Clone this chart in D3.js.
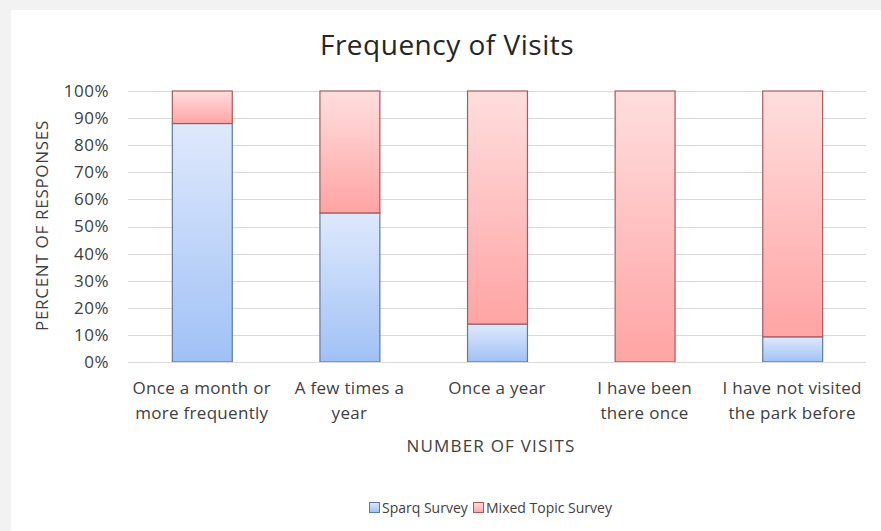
<!DOCTYPE html>
<html>
<head>
<meta charset="utf-8">
<script src="https://cdn.jsdelivr.net/npm/d3@7"></script>
<style>
  body { margin: 0; background: #f2f2f2; }
  svg { display: block; font-family: "Open Sans", sans-serif; }
</style>
</head>
<body>
<div id="chart"></div>
<script>
var width = 881;
var height = 531;
var margin = {top: 91, right: 15, bottom: 169, left: 128};

var categories = [
  ["Once a month or", "more frequently"],
  ["A few times a", "year"],
  ["Once a year"],
  ["I have been", "there once"],
  ["I have not visited", "the park before"]
];
var sparq = [88, 55, 14, 0, 9.3];
var mixed = [12, 45, 86, 100, 90.7];
var yTicks = [0, 10, 20, 30, 40, 50, 60, 70, 80, 90, 100];
var seriesNames = ["Sparq Survey", "Mixed Topic Survey"];

var svg = d3.select("#chart").append("svg")
  .attr("width", width)
  .attr("height", height);

// white chart area on grey page
svg.append("rect")
  .attr("x", 11).attr("y", 10)
  .attr("width", width - 11).attr("height", height - 10)
  .style("fill", "#fff");

var defs = svg.append("defs");
function grad(id, top, bottom) {
  var g = defs.append("linearGradient").attr("id", id)
    .attr("x1", 0).attr("y1", 0).attr("x2", 0).attr("y2", 1);
  g.append("stop").attr("offset", "0%").attr("stop-color", top);
  g.append("stop").attr("offset", "100%").attr("stop-color", bottom);
}
grad("gBlue", "#dfe9fc", "#a0c1f6");
grad("gRed", "#ffdede", "#ffa4a4");

var x = d3.scaleBand()
  .domain(d3.range(categories.length))
  .range([margin.left, width - margin.right])
  .paddingInner(0.594)
  .paddingOuter(0.297);

var y = d3.scaleLinear()
  .domain([0, 100])
  .range([height - margin.bottom, margin.top]);

// gridlines
svg.append("g").selectAll("line")
  .data(yTicks)
  .enter().append("line")
  .attr("x1", margin.left)
  .attr("x2", width - margin.right)
  .attr("y1", function(d) { return Math.round(y(d)) + 0.5; })
  .attr("y2", function(d) { return Math.round(y(d)) + 0.5; })
  .style("stroke", "#d9d9d9")
  .style("stroke-width", 1);

// y axis labels
var yAxis = d3.axisLeft(y)
  .tickValues(yTicks)
  .tickFormat(function(d) { return d + "%"; })
  .tickSize(0)
  .tickPadding(19);
var ya = svg.append("g")
  .attr("transform", "translate(" + margin.left + ",0)")
  .call(yAxis);
ya.select(".domain").remove();
ya.selectAll("text")
  .style("font-family", "Open Sans, sans-serif")
  .style("font-size", "17px")
  .style("letter-spacing", "0.5px")
  .style("fill", "#404040");

// bars: sparq segment then mixed segment stacked on top
var bars = svg.append("g").selectAll("g")
  .data(d3.range(categories.length))
  .enter().append("g");

bars.filter(function(i) { return sparq[i] > 0; })
  .append("rect")
  .attr("x", function(i) { return x(i) + 0.5; })
  .attr("width", x.bandwidth())
  .attr("y", function(i) { return y(sparq[i]); })
  .attr("height", function(i) { return y(0) - y(sparq[i]); })
  .style("fill", "url(#gBlue)")
  .style("stroke", "#5b7aa6")
  .style("stroke-width", 1.2);

bars.append("rect")
  .attr("x", function(i) { return x(i) + 0.5; })
  .attr("width", x.bandwidth())
  .attr("y", function(i) { return y(sparq[i] + mixed[i]); })
  .attr("height", function(i) { return y(sparq[i]) - y(sparq[i] + mixed[i]); })
  .style("fill", "url(#gRed)")
  .style("stroke", "#a85a5a")
  .style("stroke-width", 1.2);

// x axis baseline
svg.append("line")
  .attr("x1", margin.left).attr("x2", width - margin.right)
  .attr("y1", Math.round(y(0)) + 0.5).attr("y2", Math.round(y(0)) + 0.5)
  .style("stroke", "#d9d9d9");

// category labels
var xl = svg.append("g").selectAll("text")
  .data(categories)
  .enter().append("text")
  .attr("text-anchor", "middle")
  .attr("x", function(d, i) { return x(i) + x.bandwidth() / 2; })
  .attr("y", 394)
  .style("font-size", "17px")
  .style("letter-spacing", "0.3px")
  .style("fill", "#404040");
xl.selectAll("tspan")
  .data(function(d) { return d; })
  .enter().append("tspan")
  .attr("x", function() { return d3.select(this.parentNode).attr("x"); })
  .attr("dy", function(d, j) { return j === 0 ? 0 : 25; })
  .text(function(d) { return d; });

// titles
svg.append("text")
  .attr("text-anchor", "middle")
  .attr("x", 447).attr("y", 55)
  .style("font-size", "28px")
  .style("letter-spacing", "0.5px")
  .style("fill", "#262626")
  .text("Frequency of Visits");

svg.append("text")
  .attr("text-anchor", "middle")
  .attr("transform", "translate(48," + ((margin.top + height - margin.bottom) / 2 - 1) + ") rotate(-90)")
  .style("font-size", "17px")
  .style("letter-spacing", "0.7px")
  .style("fill", "#404040")
  .text("PERCENT OF RESPONSES");

svg.append("text")
  .attr("text-anchor", "middle")
  .attr("x", 491).attr("y", 452)
  .style("font-size", "17px")
  .style("letter-spacing", "1.2px")
  .style("fill", "#404040")
  .text("NUMBER OF VISITS");

// legend
var legend = svg.append("g");
var lx = [369, 473];
seriesNames.forEach(function(name, i) {
  legend.append("rect")
    .attr("x", lx[i] + 0.5).attr("y", 502.5)
    .attr("width", 10).attr("height", 10)
    .style("fill", i === 0 ? "url(#gBlue)" : "url(#gRed)")
    .style("stroke", i === 0 ? "#5b7aa6" : "#a85a5a");
  legend.append("text")
    .attr("x", lx[i] + 13).attr("y", 513)
    .style("font-size", "14px")
    .style("fill", "#404040")
    .text(name);
});
</script>
</body>
</html>
